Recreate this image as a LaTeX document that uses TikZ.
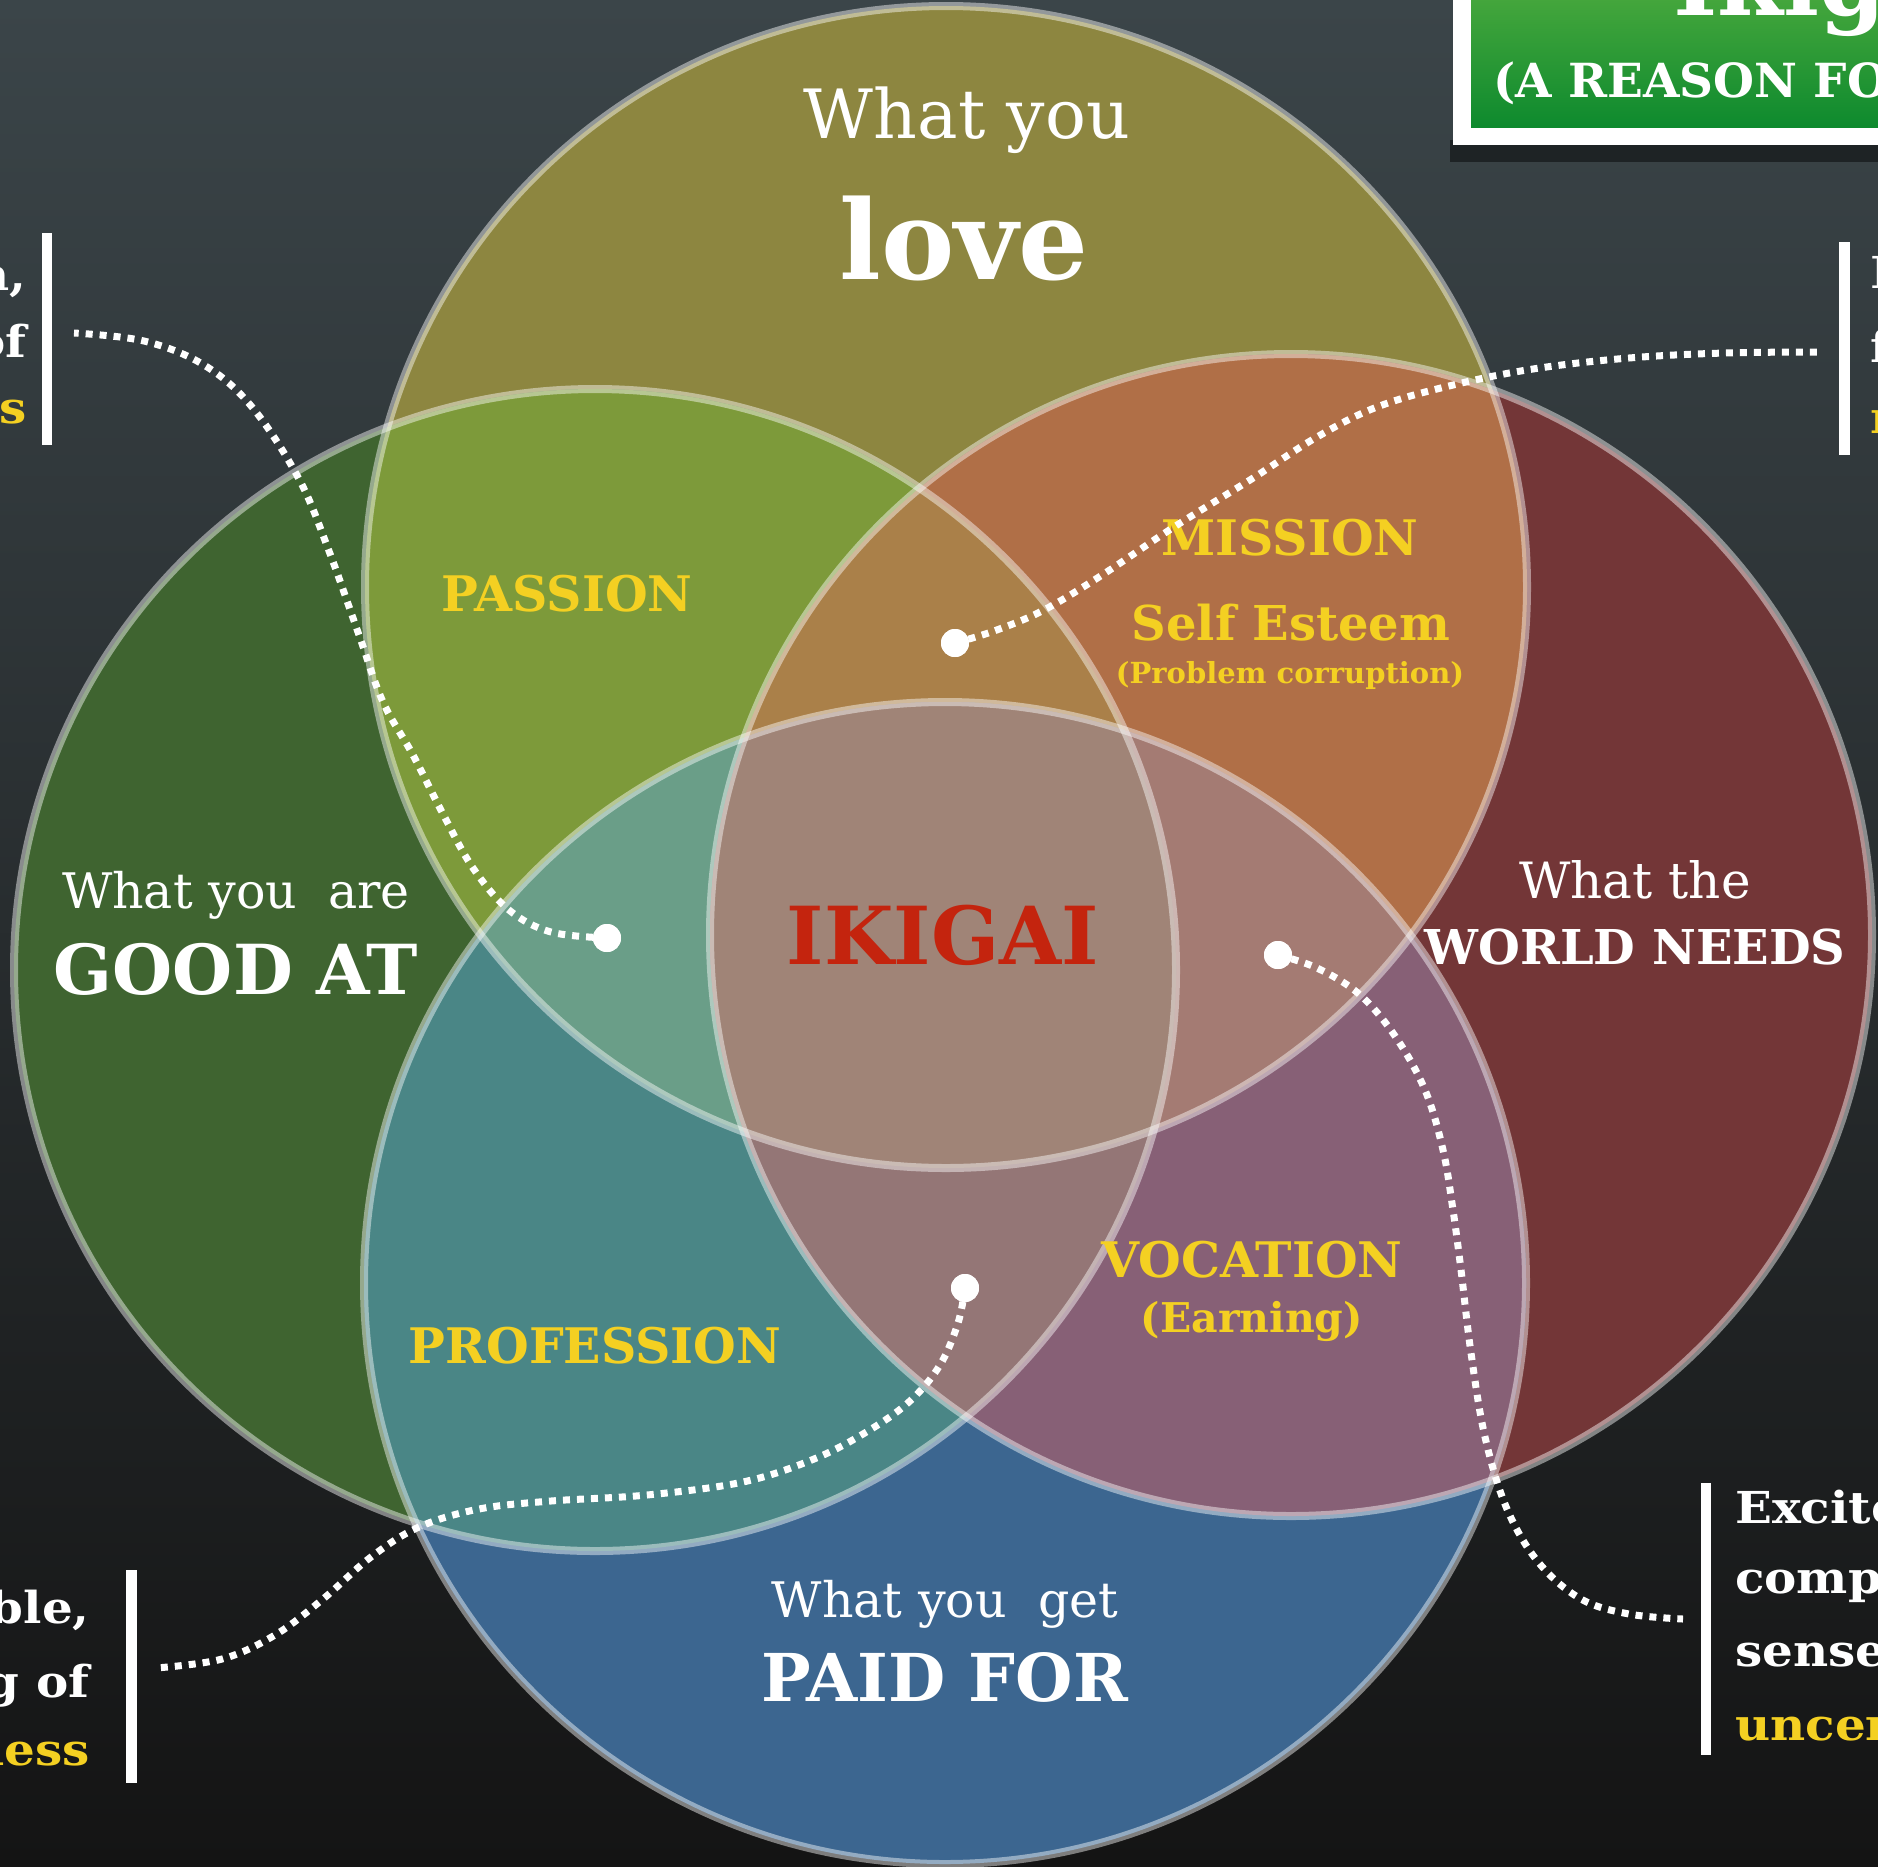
\documentclass[tikz,border=0pt]{standalone}
\usepackage{fontspec}
\setmainfont{DejaVu Serif}
\newfontfamily\sidefont{DejaVu Serif}[FakeStretch=1.1]
\newcommand\fsz[1]{\fontsize{#1pt}{#1pt}\selectfont}
\definecolor{bgA}{HTML}{3B4549}
\definecolor{bgB}{HTML}{23272A}
\definecolor{bgC}{HTML}{141414}
\definecolor{colT}{HTML}{8D8640}
\definecolor{colL}{HTML}{3F6430}
\definecolor{colR}{HTML}{733637}
\definecolor{colB}{HTML}{3C6690}
\definecolor{colTL}{HTML}{7D9A3A}
\definecolor{colTR}{HTML}{B06F47}
\definecolor{colLB}{HTML}{4A8686}
\definecolor{colRB}{HTML}{876076}
\definecolor{colTLR}{HTML}{AA8049}
\definecolor{colTLB}{HTML}{6A9E88}
\definecolor{colTRB}{HTML}{A47B73}
\definecolor{colLRB}{HTML}{947676}
\definecolor{colAll}{HTML}{A08477}
\definecolor{ikyellow}{HTML}{F4D022}
\definecolor{ikred}{HTML}{C4240E}
\definecolor{greenA}{HTML}{4CAA3E}
\definecolor{greenB}{HTML}{0E8A2E}
\begin{document}
\begin{tikzpicture}[x=1pt,y=-1pt,
  ring/.style={draw=white, draw opacity=0.45, line width=8pt},
  dotline/.style={draw=white, line width=7pt, dash pattern=on 7pt off 7pt},
  dotmark/.style={circle, fill=white, minimum size=28pt, inner sep=0pt},
  lbl/.style={inner sep=0pt, anchor=base},
  sidel/.style={inner sep=0pt, anchor=base east, font=\fsz{44}\sidefont\bfseries},
  sider/.style={inner sep=0pt, anchor=base west, font=\fsz{44}\sidefont\bfseries},
  bar/.style={fill=white}
]
\useasboundingbox (0,0) rectangle (1878,1866);
\begin{scope}
\clip (0,0) rectangle (1878,1866);
% background
\shade[top color=bgA, middle color=bgB, bottom color=bgC] (0,0) rectangle (1878,1866);

% circle centres
\coordinate (cT) at (946,587);
\coordinate (cL) at (595,970);
\coordinate (cR) at (1291,935);
\coordinate (cB) at (945,1283);
\def\R{581pt}

% single circles
\fill[colT] (cT) circle[radius=\R];
\fill[colL] (cL) circle[radius=\R];
\fill[colR] (cR) circle[radius=\R];
\fill[colB] (cB) circle[radius=\R];
% pairs
\begin{scope}\clip (cT) circle[radius=\R]; \fill[colTL] (cL) circle[radius=\R];\end{scope}
\begin{scope}\clip (cT) circle[radius=\R]; \fill[colTR] (cR) circle[radius=\R];\end{scope}
\begin{scope}\clip (cL) circle[radius=\R]; \fill[colLB] (cB) circle[radius=\R];\end{scope}
\begin{scope}\clip (cR) circle[radius=\R]; \fill[colRB] (cB) circle[radius=\R];\end{scope}
% triples
\begin{scope}\clip (cT) circle[radius=\R]; \clip (cL) circle[radius=\R]; \fill[colTLR] (cR) circle[radius=\R];\end{scope}
\begin{scope}\clip (cT) circle[radius=\R]; \clip (cL) circle[radius=\R]; \fill[colTLB] (cB) circle[radius=\R];\end{scope}
\begin{scope}\clip (cT) circle[radius=\R]; \clip (cR) circle[radius=\R]; \fill[colTRB] (cB) circle[radius=\R];\end{scope}
\begin{scope}\clip (cL) circle[radius=\R]; \clip (cR) circle[radius=\R]; \fill[colLRB] (cB) circle[radius=\R];\end{scope}
% all four
\begin{scope}\clip (cT) circle[radius=\R]; \clip (cL) circle[radius=\R]; \clip (cR) circle[radius=\R]; \fill[colAll] (cB) circle[radius=\R];\end{scope}
% rings
\draw[ring] (cL) circle[radius=\R];
\draw[ring] (cR) circle[radius=\R];
\draw[ring] (cT) circle[radius=\R];
\draw[ring] (cB) circle[radius=\R];

% title box
\fill[black, opacity=0.45] (1450,140) rectangle (1900,162);
\fill[white] (1453,-20) rectangle (1900,145);
\shade[top color=greenA, bottom color=greenB] (1471,-20) rectangle (1900,127);
\node[inner sep=0pt, anchor=base west, text=white, font=\fsz{95}\bfseries] (title) at (1673,15) {Ikigai};
\node[inner sep=0pt, anchor=base west, text=white, font=\fsz{47}\bfseries] (subtitle) at (1493,97) {(A REASON FOR BEING)};

% circle labels
\node[lbl, text=white, font=\fsz{68}] (wlove) at (967,138) {What you};
\node[lbl, text=white, font=\fsz{110}\bfseries] (love) at (964,279) {love};
\node[lbl, text=white, font=\fsz{49}] (wgood) at (236,908) {What you\ \ are};
\node[lbl, text=white, font=\fsz{69}\bfseries] (good) at (236,994) {GOOD AT};
\node[lbl, text=white, font=\fsz{50}] (wworld) at (1635,898) {What the};
\node[lbl, text=white, font=\fsz{48}\bfseries] (world) at (1635,964) {WORLD NEEDS};
\node[lbl, text=white, font=\fsz{49}] (wpaid) at (945,1617) {What you\ \ get};
\node[lbl, text=white, font=\fsz{66}\bfseries] (paid) at (945,1701) {PAID FOR};

% overlap labels
\node[lbl, text=ikyellow, font=\fsz{49}\bfseries] (passion) at (567,611) {PASSION};
\node[lbl, text=ikyellow, font=\fsz{49}\bfseries] (mission) at (1290,555) {MISSION};
\node[lbl, text=ikyellow, font=\fsz{48}\bfseries] (esteem) at (1291,640) {Self Esteem};
\node[lbl, text=ikyellow, font=\fsz{29}\bfseries] (corrupt) at (1290,683) {(Problem corruption)};
\node[lbl, text=ikyellow, font=\fsz{49}\bfseries] (vocation) at (1252,1277) {VOCATION};
\node[lbl, text=ikyellow, font=\fsz{41}\bfseries] (earning) at (1252,1332) {(Earning)};
\node[lbl, text=ikyellow, font=\fsz{49}\bfseries] (profession) at (595,1363) {PROFESSION};
\node[lbl, text=ikred, font=\fsz{80}\bfseries] (ikigai) at (943,964) {IKIGAI};

% side texts
\fill[bar] (42,233) rectangle (52,445);
\node[sidel, text=white] (tl1) at (27,290) {Satisfaction,};
\node[sidel, text=white] (tl2) at (27,357) {but feeling of};
\node[sidel, text=ikyellow] (tl3) at (27,423) {uselessness};

\fill[bar] (1839,242) rectangle (1850,455);
\node[sider, text=white] (tr1) at (1870,288) {Delight and};
\node[sider, text=white] (tr2) at (1870,362) {fullness, but};
\node[sider, text=ikyellow] (tr3) at (1870,433) {no wealth};

\fill[bar] (126,1570) rectangle (137,1783);
\node[sidel, text=white] (bl1) at (90,1623) {Comfortable,};
\node[sidel, text=white] (bl2) at (90,1697) {but feeling of};
\node[sidel, text=ikyellow] (bl3) at (90,1765) {emptiness};

\fill[bar] (1701,1483) rectangle (1711,1755);
\node[sider, text=white] (br1) at (1735,1523) {Excitement and};
\node[sider, text=white] (br2) at (1735,1593) {complacency, but};
\node[sider, text=white] (br3) at (1735,1666) {sense of};
\node[sider, text=ikyellow] (br4) at (1735,1740) {uncertainty};

% dots and connectors
\coordinate (e1) at (74,333);
\coordinate (e2) at (1823,352);
\coordinate (e3) at (1683,1619);
\coordinate (e4) at (156,1668);
\node[dotmark] (d1) at (607,938) {};
\node[dotmark] (d2) at (955,643) {};
\node[dotmark] (d3) at (1278,955) {};
\node[dotmark] (d4) at (965,1288) {};

\draw[dotline] plot[smooth, tension=0.6] coordinates {(d1.center) (551,932) (509,910) (473,868) (443,814) (413,755) (383,702) (359,635) (329,551) (299,479) (252,407) (204,365) (144,341) (e1)};
\draw[dotline] plot[smooth, tension=0.6] coordinates {(d2.center) (994,631) (1042,611) (1099,577) (1174,527) (1250,480) (1317,437) (1377,407) (1449,386) (1533,369) (1629,358) (1725,353) (e2)};
\draw[dotline] plot[smooth, tension=0.6] coordinates {(d3.center) (1317,968) (1359,994) (1395,1036) (1425,1090) (1443,1150) (1453,1210) (1461,1270) (1471,1353) (1485,1437) (1507,1509) (1539,1563) (1581,1599) (1629,1614) (e3)};
\draw[dotline] plot[smooth, tension=0.6] coordinates {(d4.center) (958,1323) (940,1365) (910,1401) (868,1431) (814,1459) (743,1482) (647,1495) (551,1501) (479,1509) (419,1527) (371,1557) (323,1599) (275,1635) (222,1659) (e4)};

\node[dotmark] at (d1) {};
\node[dotmark] at (d2) {};
\node[dotmark] at (d3) {};
\node[dotmark] at (d4) {};
\end{scope}
\end{tikzpicture}
\end{document}
